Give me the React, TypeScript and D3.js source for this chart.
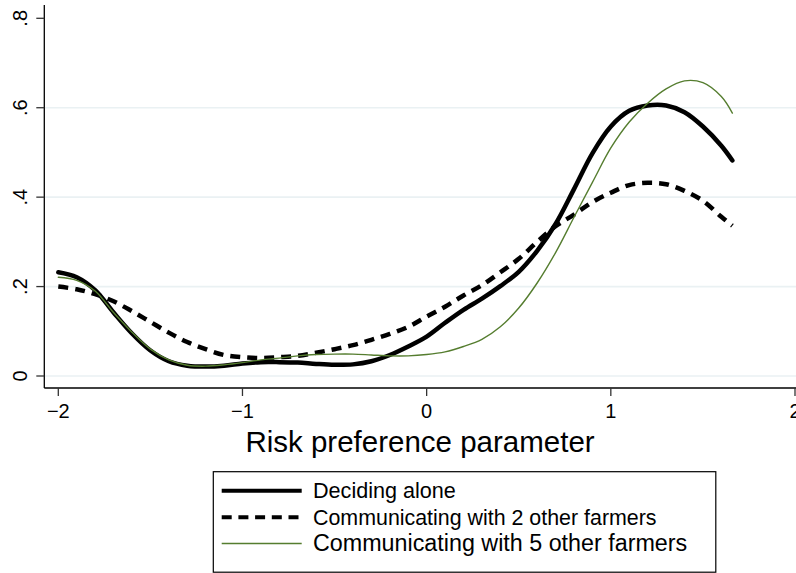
import React from "react";
import * as d3 from "d3";

// x grid (risk preference parameter)
const xGrid = [
  -2.0, -1.9, -1.8, -1.7, -1.6, -1.5, -1.4, -1.3, -1.2, -1.1, -1.0, -0.9, -0.8, -0.7, -0.6,
  -0.5, -0.4, -0.3, -0.2, -0.1, 0.0, 0.1, 0.2, 0.3, 0.4, 0.5, 0.6, 0.7, 0.8, 0.9, 1.0, 1.1,
  1.2, 1.3, 1.4, 1.5, 1.6, 1.66,
];

const decidingAlone = [
  0.232, 0.221, 0.192, 0.142, 0.095, 0.057, 0.033, 0.023, 0.021, 0.023, 0.028, 0.031, 0.031,
  0.030, 0.027, 0.025, 0.026, 0.033, 0.047, 0.066, 0.088, 0.119, 0.148, 0.173, 0.201, 0.233,
  0.280, 0.340, 0.418, 0.498, 0.558, 0.593, 0.605, 0.605, 0.590, 0.558, 0.515, 0.482,
];

const comm2 = [
  0.2, 0.194, 0.183, 0.167, 0.145, 0.121, 0.097, 0.076, 0.06, 0.047, 0.042, 0.04, 0.042, 0.045,
  0.052, 0.06, 0.069, 0.081, 0.094, 0.11, 0.133, 0.155, 0.18, 0.203, 0.232, 0.262, 0.3, 0.335,
  0.361, 0.389, 0.41, 0.427, 0.432, 0.429, 0.414, 0.392, 0.356, 0.336,
];

const comm5 = [
  0.221, 0.214, 0.19, 0.142, 0.098, 0.06, 0.036, 0.024, 0.022, 0.025, 0.03, 0.036, 0.04, 0.045,
  0.048, 0.049, 0.049, 0.047, 0.045, 0.045, 0.048, 0.054, 0.066, 0.082, 0.11, 0.152, 0.208,
  0.276, 0.355, 0.433, 0.51, 0.568, 0.61, 0.642, 0.66, 0.656, 0.625, 0.588,
];

const xTicks = [-2, -1, 0, 1, 2];
const xTickLabels = ["\u22122", "\u22121", "0", "1", "2"];
const yTicks = [0, 0.2, 0.4, 0.6, 0.8];
const yTickLabels = ["0", ".2", ".4", ".6", ".8"];
const gridTicks = [0, 0.2, 0.4, 0.6];

const seriesNames = [
  "Deciding alone",
  "Communicating with 2 other farmers",
  "Communicating with 5 other farmers",
];

const GREEN = "#557d2f";
const FONT = "'Liberation Sans', Arial, Helvetica, sans-serif";

export default function App() {
  const W = 796;
  const H = 573;
  const x = d3.scaleLinear().domain([-2, 2]).range([58.3, 795]);
  const y = d3.scaleLinear().domain([0, 0.8]).range([376, 18.3]);
  const axisX = 44.3;
  const axisY = 388;

  const line = (vals: number[]) =>
    d3
      .line<number>()
      .x((_, i) => x(xGrid[i]))
      .y((d) => y(d))
      .curve(d3.curveCatmullRom.alpha(0.5))(vals) as string;

  const series = [
    { name: seriesNames[0], vals: decidingAlone, stroke: "#000", width: 4.5, dash: undefined as string | undefined, fs: 21.6 },
    { name: seriesNames[1], vals: comm2, stroke: "#000", width: 4.5, dash: "10 7", fs: 21.4 },
    { name: seriesNames[2], vals: comm5, stroke: GREEN, width: 1.4, dash: undefined, fs: 23.3 },
  ];

  const legendRows = [490.7, 517.3, 543.5];

  return (
    <svg
      width={W}
      height={H}
      style={{ position: "absolute", left: 0, top: 0, background: "#fff" }}
      fontFamily={FONT}
    >
      <rect x={0} y={0} width={W} height={H} fill="#fff" />
      {/* gridlines */}
      {gridTicks.map((t) => (
        <line key={"g" + t} x1={axisX} x2={W} y1={y(t)} y2={y(t)} stroke="#eaf1f3" strokeWidth={1.6} />
      ))}
      {/* series */}
      {series.map((s) => (
        <path
          key={s.name}
          d={line(s.vals)}
          fill="none"
          stroke={s.stroke}
          strokeWidth={s.width}
          strokeDasharray={s.dash}
          strokeLinecap={s.dash ? "butt" : "round"}
          strokeLinejoin="round"
        />
      ))}
      {/* axes */}
      <line x1={axisX} x2={axisX} y1={5} y2={axisY} stroke="#000" strokeWidth={1.3} />
      <line x1={axisX} x2={W} y1={axisY} y2={axisY} stroke="#000" strokeWidth={1.3} />
      {yTicks.map((t, i) => (
        <g key={"y" + t}>
          <line x1={axisX - 8} x2={axisX} y1={y(t)} y2={y(t)} stroke="#333" strokeWidth={1.3} />
          <text
            transform={`translate(27,${y(t)}) rotate(-90)`}
            textAnchor="middle"
            fontSize={20}
            fill="#000"
          >
            {yTickLabels[i]}
          </text>
        </g>
      ))}
      {xTicks.map((t, i) => (
        <g key={"x" + t}>
          <line x1={x(t)} x2={x(t)} y1={axisY} y2={axisY + 8} stroke="#333" strokeWidth={1.3} />
          <text x={x(t)} y={418} textAnchor="middle" fontSize={20} fill="#000">
            {xTickLabels[i]}
          </text>
        </g>
      ))}
      <text x={420} y={452} textAnchor="middle" fontSize={29.5} fill="#000">
        Risk preference parameter
      </text>
      {/* legend */}
      <rect x={213.3} y={471.7} width={502.5} height={100.5} fill="#fff" stroke="#000" strokeWidth={1.2} />
      {series.map((s, i) => (
        <g key={"l" + i}>
          <line
            x1={221.7}
            x2={301.7}
            y1={legendRows[i]}
            y2={legendRows[i]}
            stroke={s.stroke}
            strokeWidth={s.width === 1.4 ? 1.4 : 4}
            strokeDasharray={s.dash ? "10 6.7" : undefined}
          />
          <text x={313} y={legendRows[i] + 7.7} fontSize={s.fs} fill="#000">
            {s.name}
          </text>
        </g>
      ))}
    </svg>
  );
}
